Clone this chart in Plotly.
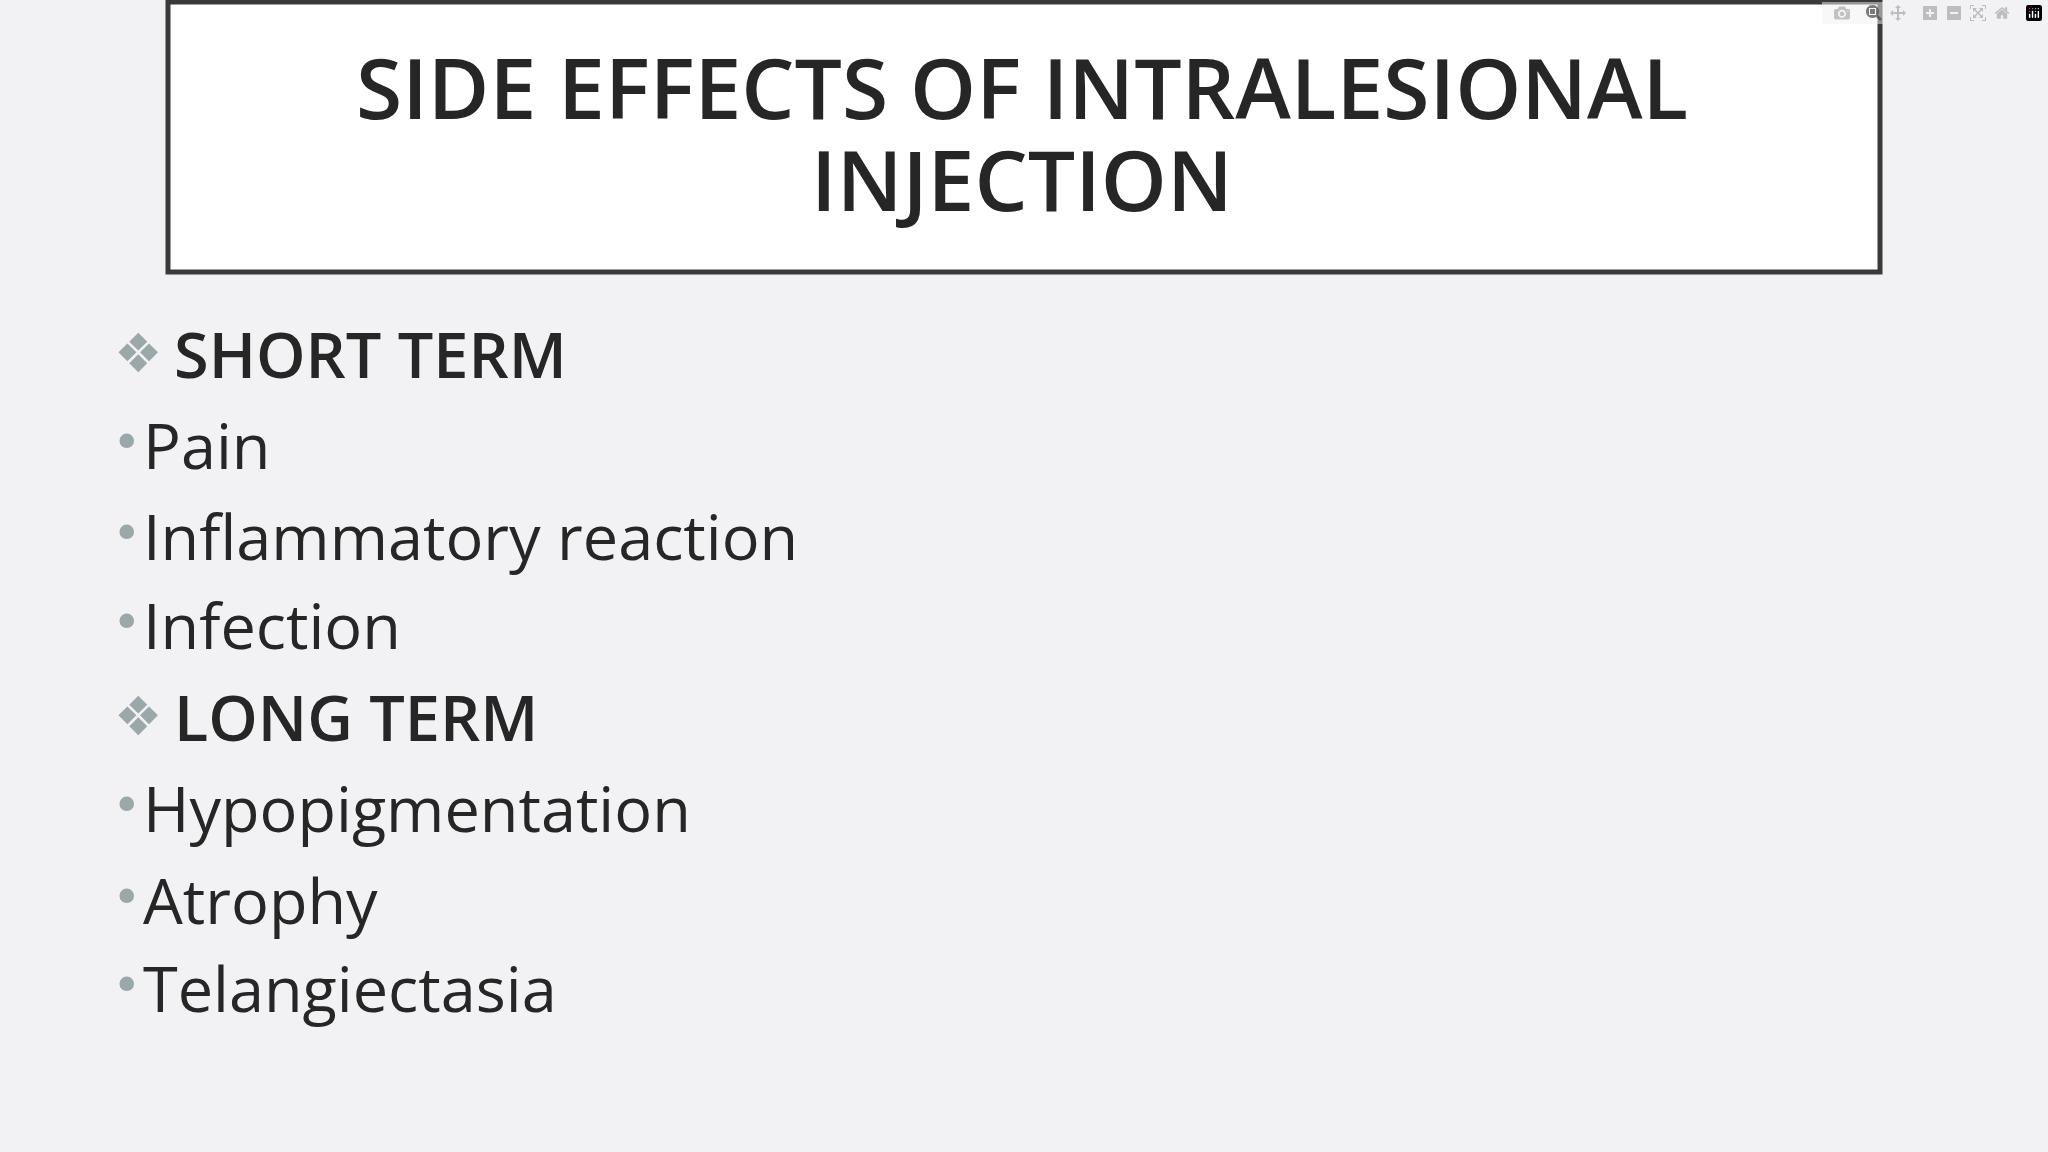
import plotly.graph_objects as go

W, H = 2048, 1152

title_lines = ["SIDE EFFECTS OF INTRALESIONAL", "INJECTION"]
title_y = [86, 178]

# (kind, text, pixel y of text centre)
items = [
    ("head", "SHORT TERM", 353),
    ("item", "Pain", 444),
    ("item", "Inflammatory reaction", 535),
    ("item", "Infection", 624),
    ("head", "LONG TERM", 716),
    ("item", "Hypopigmentation", 807),
    ("item", "Atrophy", 899),
    ("item", "Telangiectasia", 987),
]

TEXT = "#262626"
GREY = "#9aa8aa"
FONT = "Open Sans"

fig = go.Figure()

def py(y):
    return 1 - y / H

def px_(x):
    return x / W

ann = []
for t, y in zip(title_lines, title_y):
    ann.append(dict(x=px_(1022), y=py(y), text=t, showarrow=False, xanchor="center",
                    yanchor="middle", font=dict(family=FONT, size=84, color=TEXT, weight=600)))

for kind, text, y in items:
    if kind == "head":
        ann.append(dict(x=px_(112), y=py(y), text="❖", showarrow=False, xanchor="left",
                        yanchor="middle", font=dict(family="DejaVu Sans", size=54, color=GREY)))
        ann.append(dict(x=px_(172), y=py(y), text=text, showarrow=False,
                        xanchor="left", yanchor="middle",
                        font=dict(family=FONT, size=63, color=TEXT, weight=600)))
    else:
        ann.append(dict(x=px_(110), y=py(y - 2), text="•", showarrow=False, xanchor="left",
                        yanchor="middle", font=dict(family="DejaVu Sans", size=50, color=GREY)))
        ann.append(dict(x=px_(141), y=py(y), text=text, showarrow=False, xanchor="left",
                        yanchor="middle", font=dict(family=FONT, size=63, color=TEXT)))

fig.update_layout(
    width=W, height=H,
    margin=dict(l=0, r=0, t=0, b=0),
    paper_bgcolor="#f2f1f3", plot_bgcolor="#f2f1f3",
    xaxis=dict(visible=False, range=[0, 1]),
    yaxis=dict(visible=False, range=[0, 1]),
    annotations=ann,
    shapes=[dict(type="rect", xref="paper", yref="paper",
                 x0=px_(168), x1=px_(1880), y0=py(272), y1=py(2),
                 line=dict(color="#3a3a3a", width=5), fillcolor="white", layer="below")],
    showlegend=False,
)

fig.write_html("out.html",
               post_script="document.body.style.margin='0';document.body.style.background='#f2f1f3';")
